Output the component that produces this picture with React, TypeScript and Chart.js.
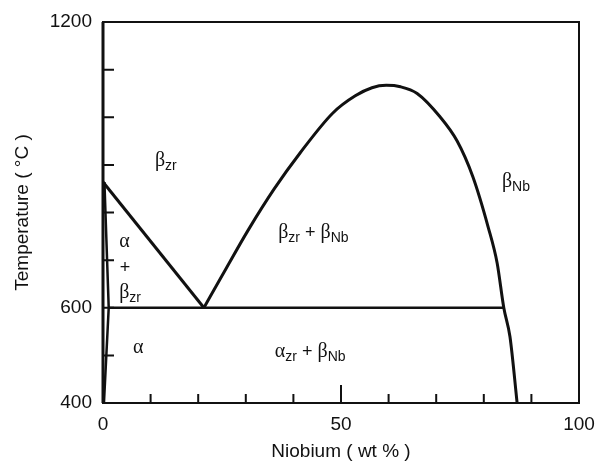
import React, { useEffect, useRef } from "react";
import { Chart, registerables } from "chart.js";

Chart.register(...registerables);

// ---- data (wt% Nb, temperature °C) ----
const xTickValues = [0, 10, 20, 30, 40, 50, 60, 70, 80, 90, 100];
const xTickLabels = ["0", "", "", "", "", "50", "", "", "", "", "100"];
const yTickValues = [400, 500, 600, 700, 800, 900, 1000, 1100, 1200];
const yTickLabels = ["400", "", "600", "", "", "", "", "", "1200"];

const monotectoidLine = [
  { x: 1.2, y: 600 },
  { x: 84.2, y: 600 },
];
const betaTransus = [
  { x: 0, y: 864 },
  { x: 21.2, y: 600 },
];
const alphaBoundary = [
  { x: 0.2, y: 400 },
  { x: 1.2, y: 600 },
  { x: 0.3, y: 864 },
];
const miscibilityGap = [
  { x: 21.2, y: 600 },
  { x: 25, y: 667 },
  { x: 30.5, y: 763 },
  { x: 36, y: 850 },
  { x: 41.4, y: 925 },
  { x: 48.3, y: 1009 },
  { x: 53, y: 1045 },
  { x: 56.5, y: 1062 },
  { x: 59.5, y: 1067 },
  { x: 62.5, y: 1064 },
  { x: 66, y: 1050 },
  { x: 70.8, y: 1001 },
  { x: 74.4, y: 950 },
  { x: 77.7, y: 875 },
  { x: 80.9, y: 770 },
  { x: 82.8, y: 694 },
  { x: 84.2, y: 600 },
  { x: 85.5, y: 539 },
  { x: 87, y: 400 },
];

// region labels: anchor (left, baseline) in data coords, rich text segments
type Seg = [string, boolean];
const regionLabels: { x: number; y: number; segs: Seg[] }[] = [
  { x: 10.9, y: 898, segs: [["β", false], ["zr", true]] },
  { x: 36.8, y: 747, segs: [["β", false], ["zr", true], [" + ", false], ["β", false], ["Nb", true]] },
  { x: 36.1, y: 497, segs: [["α", false], ["zr", true], [" + ", false], ["β", false], ["Nb", true]] },
  { x: 83.8, y: 854, segs: [["β", false], ["Nb", true]] },
  { x: 3.4, y: 728, segs: [["α", false]] },
  { x: 3.5, y: 672, segs: [["+", false]] },
  { x: 3.4, y: 620, segs: [["β", false], ["zr", true]] },
  { x: 6.3, y: 505, segs: [["α", false]] },
];

const SANS = '"Liberation Sans", Arial, Helvetica, sans-serif';
const SERIF = '"Liberation Serif", "Times New Roman", serif';

const framePlugin = {
  id: "phaseFrame",
  afterDraw(chart: any) {
    const { ctx, chartArea, scales } = chart;
    const xs = scales.x;
    const ys = scales.y;
    ctx.save();
    ctx.strokeStyle = "#111";
    ctx.lineWidth = 2;
    ctx.strokeRect(chartArea.left, chartArea.top, chartArea.right - chartArea.left, chartArea.bottom - chartArea.top);
    ctx.lineWidth = 3;
    ctx.beginPath();
    ctx.moveTo(chartArea.left, chartArea.top);
    ctx.lineTo(chartArea.left, chartArea.bottom);
    ctx.stroke();
    // inward ticks
    ctx.lineWidth = 2;
    ctx.beginPath();
    xTickValues.forEach((v) => {
      if (v === 0 || v === 100) return;
      const px = xs.getPixelForValue(v);
      const len = v === 50 ? 18 : 9;
      ctx.moveTo(px, chartArea.bottom);
      ctx.lineTo(px, chartArea.bottom - len);
    });
    yTickValues.forEach((v) => {
      if (v === 400 || v === 1200) return;
      const py = ys.getPixelForValue(v);
      ctx.moveTo(chartArea.left, py);
      ctx.lineTo(chartArea.left + 11, py);
    });
    ctx.stroke();
    // region labels
    ctx.fillStyle = "#111";
    ctx.textBaseline = "alphabetic";
    ctx.textAlign = "left";
    regionLabels.forEach((lab) => {
      let px = xs.getPixelForValue(lab.x);
      const py = ys.getPixelForValue(lab.y);
      lab.segs.forEach(([t, sub]) => {
        if (sub) {
          ctx.font = `14px ${SANS}`;
          ctx.fillText(t, px, py + 4);
          px += ctx.measureText(t).width;
        } else {
          const greek = t === "α" || t === "β";
          ctx.font = greek ? `20px ${SERIF}` : `18px ${SANS}`;
          ctx.fillText(t, px, py);
          px += ctx.measureText(t).width;
        }
      });
    });
    ctx.restore();
  },
};

export default function App() {
  const canvasRef = useRef<HTMLCanvasElement | null>(null);

  useEffect(() => {
    document.body.style.margin = "0";
    const canvas = canvasRef.current;
    if (!canvas) return;
    const lineStyle = {
      showLine: true,
      pointRadius: 0,
      borderColor: "#111",
      borderWidth: 3,
      fill: false,
    };
    const chart = new Chart(canvas, {
      type: "scatter",
      data: {
        datasets: [
          { ...lineStyle, data: monotectoidLine, borderWidth: 2.5 },
          { ...lineStyle, data: betaTransus },
          { ...lineStyle, data: alphaBoundary, borderWidth: 2.5 },
          { ...lineStyle, data: miscibilityGap, cubicInterpolationMode: "monotone" },
        ],
      },
      options: {
        animation: false,
        responsive: true,
        maintainAspectRatio: false,
        layout: { padding: { top: 22, right: 19, left: 0, bottom: 0 } },
        plugins: { legend: { display: false }, tooltip: { enabled: false } },
        scales: {
          x: {
            type: "linear",
            min: 0,
            max: 100,
            afterBuildTicks: (s: any) => {
              s.ticks = xTickValues.map((v) => ({ value: v }));
            },
            afterFit: (s: any) => {
              s.height = 63;
              s.paddingLeft = 0;
              s.paddingRight = 0;
            },
            grid: { display: false, drawTicks: false },
            border: { display: false },
            ticks: {
              autoSkip: false,
              maxRotation: 0,
              padding: 10,
              color: "#111",
              font: { family: SANS, size: 19 },
              callback: (v: any) => xTickLabels[xTickValues.indexOf(Number(v))] ?? "",
            },
            title: {
              display: true,
              text: "Niobium ( wt % )",
              color: "#111",
              font: { family: SANS, size: 19 },
              padding: { top: 0, bottom: 3 },
            },
          },
          y: {
            type: "linear",
            min: 400,
            max: 1200,
            afterBuildTicks: (s: any) => {
              s.ticks = yTickValues.map((v) => ({ value: v }));
            },
            afterFit: (s: any) => {
              s.width = 103;
              s.paddingTop = 0;
              s.paddingBottom = 0;
            },
            grid: { display: false, drawTicks: false },
            border: { display: false },
            ticks: {
              autoSkip: false,
              padding: 11,
              color: "#111",
              font: { family: SANS, size: 19 },
              callback: (v: any) => yTickLabels[yTickValues.indexOf(Number(v))] ?? "",
            },
            title: {
              display: true,
              text: "Temperature ( °C )",
              color: "#111",
              font: { family: SANS, size: 19 },
              padding: { top: 11, bottom: 0 },
            },
          },
        },
      },
      plugins: [framePlugin],
    });
    return () => chart.destroy();
  }, []);

  return (
    <div style={{ width: 598, height: 466, position: "relative", background: "#fff" }}>
      <canvas ref={canvasRef} />
    </div>
  );
}
